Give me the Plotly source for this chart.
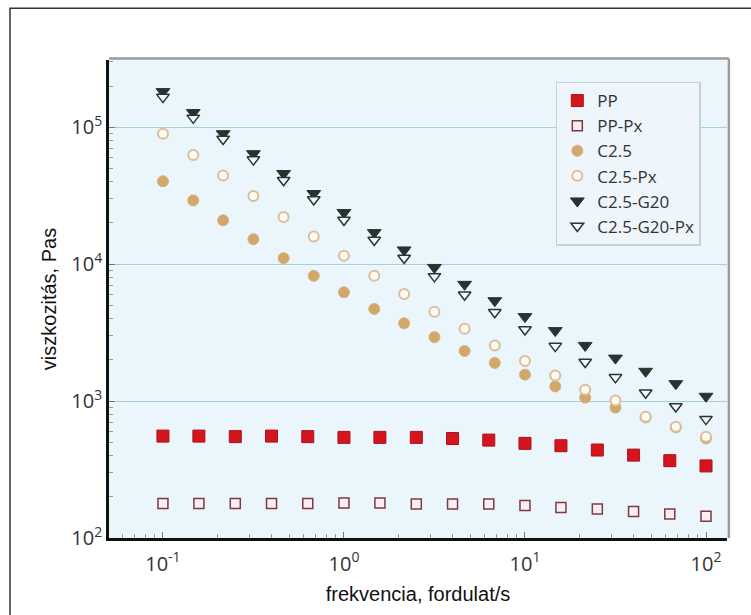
import plotly.graph_objects as go

# ---------------- data ----------------
freq5 = [0.1, 0.158, 0.251, 0.398, 0.631, 1, 1.58, 2.51, 3.98, 6.31,
         10, 15.8, 25.1, 39.8, 63.1, 100]
freq6 = [0.1, 0.147, 0.215, 0.316, 0.464, 0.681, 1, 1.47, 2.15, 3.16,
         4.64, 6.81, 10, 14.7, 21.5, 31.6, 46.4, 68.1, 100]

pp = [555, 555, 550, 555, 550, 543, 543, 543, 533, 519, 491, 472, 439, 403, 367, 336]
pp_px = [179, 179, 179, 179, 179, 180, 180, 177, 177, 177, 173, 167, 163, 156, 150, 144]
c25 = [40300, 29200, 20900, 15200, 11060, 8220, 6230, 4710, 3700, 2930,
       2320, 1900, 1560, 1280, 1060, 897, 759, 642, 534]
c25_px = [89700, 62800, 44400, 31400, 22100, 15900, 11500, 8220, 6050, 4500,
          3370, 2550, 1960, 1540, 1210, 1010, 767, 649, 549]
c25_g20 = [182000, 128000, 89700, 64100, 45900, 32800, 23800, 17000, 12700, 9460,
           7120, 5410, 4140, 3270, 2550, 2060, 1650, 1340, 1084]
c25_g20_px = [166000, 117000, 82000, 58000, 41000, 29700, 21000, 15000, 11100, 8140,
              5980, 4450, 3330, 2520, 1930, 1490, 1150, 912, 738]

x_tickvals = [0.1, 1, 10, 100]
x_ticktext = ["10<sup>-1</sup>", "10<sup>0</sup>", "10<sup>1</sup>", "10<sup>2</sup>"]
y_tickvals = [100, 1000, 10000, 100000]
y_ticktext = ["10<sup>2</sup>", "10<sup>3</sup>", "10<sup>4</sup>", "10<sup>5</sup>"]

x_minor = [k * 10.0 ** e for e in range(-2, 3) for k in range(2, 10)]
y_minor = [k * 10.0 ** e for e in range(2, 6) for k in range(2, 10)]

# ---------------- figure ----------------
fig = go.Figure()

series = [
    ("PP", freq5, pp, dict(symbol="square", size=12, color="#D3161E",
                           line=dict(color="#B01018", width=1))),
    ("PP-Px", freq5, pp_px, dict(symbol="square", size=10, color="#FDEEF3",
                                 line=dict(color="#7E3A42", width=1.5))),
    ("C2.5", freq6, c25, dict(symbol="circle", size=11, color="#D3A66A",
                              line=dict(color="#D8B27E", width=1))),
    ("C2.5-Px", freq6, c25_px, dict(symbol="circle", size=10, color="#FFFBF2",
                                    line=dict(color="#D8BF9A", width=2))),
    ("C2.5-G20", freq6, c25_g20, dict(symbol="triangle-down", size=12, color="#27332F",
                                      line=dict(color="#27332F", width=1))),
    ("C2.5-G20-Px", freq6, c25_g20_px, dict(symbol="triangle-down", size=11, color="#F4F8FB",
                                            line=dict(color="#2A3533", width=1.5))),
]
for name, xs, ys, mk in series:
    fig.add_trace(go.Scatter(x=xs, y=ys, name=name, mode="markers", marker=mk))

tickfont = dict(family="Open Sans, DejaVu Sans, sans-serif", size=20, color="#333333")
titlefont = dict(family="Liberation Sans, Arial, sans-serif", size=20, color="#111111")

fig.update_xaxes(
    type="log", range=[-1.298, 2.116],
    tickmode="array", tickvals=x_tickvals, ticktext=x_ticktext,
    ticks="inside", ticklen=6, tickcolor="#777777", tickwidth=1,
    ticklabelstandoff=6,
    minor=dict(tickmode="array", tickvals=x_minor, ticks="inside", ticklen=4,
               tickcolor="#999999", showgrid=False),
    showgrid=False, zeroline=False,
    showline=True, linecolor="#111111", linewidth=2.5,
    tickfont=tickfont,
    title=dict(text="frekvencia, fordulat/s", font=titlefont, standoff=12),
)
fig.update_yaxes(
    type="log", range=[2, 5.491],
    tickmode="array", tickvals=y_tickvals, ticktext=y_ticktext,
    ticks="inside", ticklen=6, tickcolor="#777777", tickwidth=1,
    minor=dict(tickmode="array", tickvals=y_minor, ticks="inside", ticklen=4,
               tickcolor="#999999", showgrid=False),
    showgrid=True, gridcolor="#A8CFD6", gridwidth=1, zeroline=False,
    showline=True, linecolor="#111111", linewidth=2.5,
    tickfont=tickfont,
    title=dict(text="viszkozitás, Pas", font=titlefont, standoff=10),
)

# plot frame shadow (top & right) and outer border
fig.add_shape(type="line", xref="paper", yref="paper", x0=0, x1=1.003, y0=1.003, y1=1.003,
              line=dict(color="#9A9A9A", width=2.5), layer="above")
fig.add_shape(type="line", xref="paper", yref="paper", x0=1.003, x1=1.003, y0=0, y1=1.003,
              line=dict(color="#9A9A9A", width=2.5), layer="above")
fig.add_shape(type="rect", xref="paper", yref="paper",
              x0=-0.1602, x1=1.2, y0=-0.3, y1=1.1083,
              line=dict(color="#333333", width=1.5), fillcolor="rgba(0,0,0,0)", layer="above")

fig.update_layout(
    width=751, height=615,
    margin=dict(l=109, r=24, t=60, b=75),
    paper_bgcolor="white", plot_bgcolor="#EBF5FC",
    showlegend=True,
    legend=dict(
        x=0.723, y=0.955, xanchor="left", yanchor="top",
        bgcolor="#EEF5FB", bordercolor="#C3D2DD", borderwidth=1.5,
        font=dict(family="Open Sans, DejaVu Sans, sans-serif", size=17, color="#333333"),
        itemsizing="trace", tracegroupgap=0,
    ),
)

fig.write_html("out.html")
